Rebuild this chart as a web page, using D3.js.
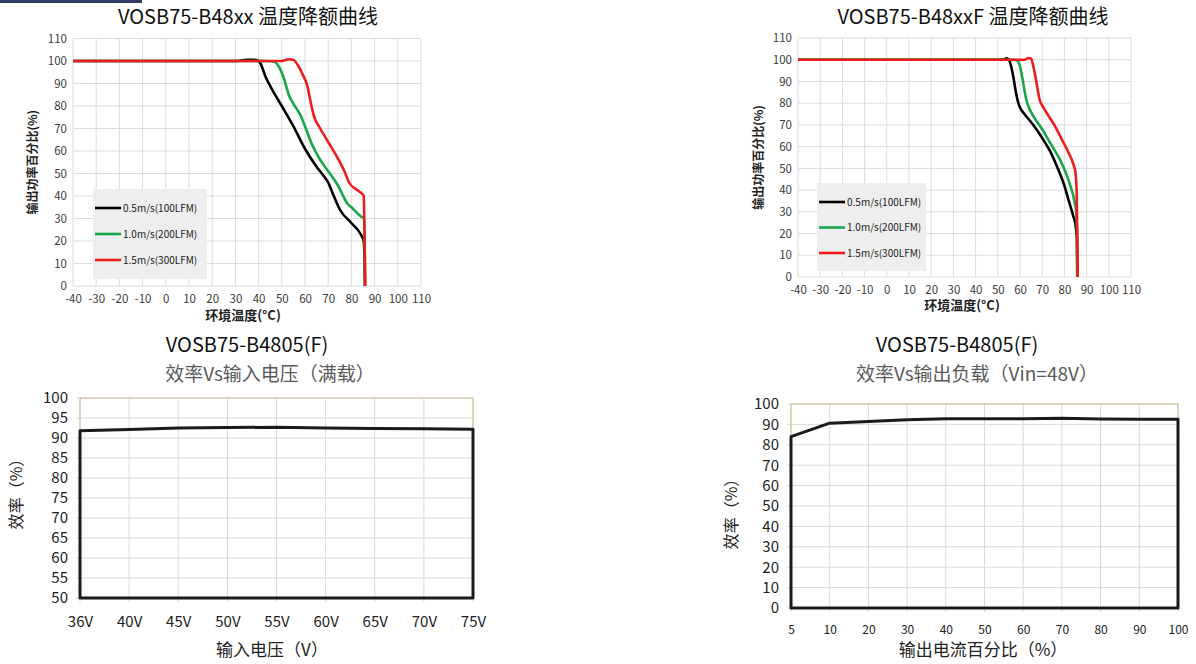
<!DOCTYPE html>
<html>
<head>
<meta charset="utf-8">
<script src="https://cdn.jsdelivr.net/npm/d3@7"></script>
<style>
  body { margin: 0; background: #fff; }
  svg { display: block; }
  text { font-family: "Noto Sans CJK SC", "DejaVu Sans", sans-serif; }
</style>
</head>
<body>
<script>
// ---- data: temperature derating curves (temp, output %) ----
var speeds = ["0.5m/s(100LFM)", "1.0m/s(200LFM)", "1.5m/s(300LFM)"];
var speedColors = ["#000000", "#1aa64b", "#ee1c1c"];

var b48xxBlack = [[-40,100],[30,100],[35,100.5],[38,100.5],[40,100],[41,98.5],[43,93],[46,87],[50,80],[55,71],[60,61],[65,53],[68,49],[70,46],[72,41],[75,34],[80,28],[84,23],[85.3,20],[85.7,10],[85.8,0]];
var b48xxGreen = [[-40,100],[44,100],[47,99.5],[49,97],[51,92],[53,85],[55,81],[58,76],[60,71],[63,63],[66,57],[70,51],[74,45],[76,41],[78,37],[80,35],[84,31],[85.4,30],[85.7,20],[85.9,0]];
var b48xxRed = [[-40,100],[50,100],[53,100.8],[55,100.5],[57,98],[59,94],[61,89],[62,84],[63,79],[64,75],[66,71],[70,64],[74,57],[77,51],[79,46],[82,43],[84,41.5],[85.3,40],[85.7,20],[86,0]];

var b48xxfBlack = [[-40,100],[52,100],[54,100.6],[55,100],[56,97],[57,92],[58,86],[59,81],[60,78],[62,75],[66,70],[70,64],[74,57],[77,50],[80,42],[82,35],[84,28],[85,24],[85.6,18],[85.8,0]];
var b48xxfGreen = [[-40,100],[57,100],[59,99.5],[60,97],[61,92],[62,86],[63,81],[64,78],[66,74],[70,68],[74,61],[78,54],[81,47],[83,41],[84.5,35],[85.3,30],[85.7,20],[85.9,0]];
var b48xxfRed = [[-40,100],[62,100],[64,100.8],[65,100.5],[66,97],[67,92],[68,86],[69,81],[70,79],[73,74],[76,69],[79,63],[82,57],[84,52],[85,48],[85.5,40],[85.8,20],[86,0]];

var tempTicks = d3.range(-40, 111, 10);
var pctTicks = d3.range(0, 111, 10);

// ---- data: efficiency ----
var vinLabels = ["36V","40V","45V","50V","55V","60V","65V","70V","75V"];
var effVsVin = [91.8, 92.1, 92.5, 92.6, 92.7, 92.5, 92.4, 92.3, 92.2];
var effVinTicks = d3.range(50, 101, 5);

var loadLabels = ["5","10","20","30","40","50","60","70","80","90","100"];
var effVsLoad = [84, 90.6, 91.4, 92.3, 92.8, 92.8, 92.8, 93.0, 92.6, 92.5, 92.5];
var effLoadTicks = d3.range(0, 101, 10);

var svg = d3.select("body").append("svg")
  .attr("width", 1196)
  .attr("height", 664);

// small navy bar in the corner
svg.append("rect").attr("x", 0).attr("y", 0).attr("width", 142).attr("height", 3).attr("fill", "#2f3d63");

function derating(opt) {
  var x = d3.scaleLinear().domain([-40, 110]).range([opt.x0, opt.x1]);
  var y = d3.scaleLinear().domain([0, 110]).range([opt.y0, opt.y1]);
  var g = svg.append("g");

  // grid
  g.append("g").selectAll("line").data(tempTicks).enter().append("line")
    .attr("x1", function (d) { return x(d); }).attr("x2", function (d) { return x(d); })
    .attr("y1", y(0)).attr("y2", y(110))
    .attr("stroke", "#dcdcdc").attr("stroke-width", 1);
  g.append("g").selectAll("line").data(pctTicks).enter().append("line")
    .attr("y1", function (d) { return y(d); }).attr("y2", function (d) { return y(d); })
    .attr("x1", x(-40)).attr("x2", x(110))
    .attr("stroke", "#dcdcdc").attr("stroke-width", 1);

  // axes
  var xa = g.append("g").attr("transform", "translate(0," + y(0) + ")")
    .call(d3.axisBottom(x).tickValues(tempTicks).tickFormat(function (d) { return String(d); }).tickSize(0).tickPadding(9));
  var ya = g.append("g").attr("transform", "translate(" + x(-40) + ",0)")
    .call(d3.axisLeft(y).tickValues(pctTicks).tickSize(0).tickPadding(6));
  [xa, ya].forEach(function (a) {
    a.select(".domain").remove();
    a.selectAll("text").attr("font-family", "Lato, sans-serif").attr("font-size", 11.5).attr("fill", "#3a3a3a");
  });

  // legend box
  var lg = g.append("g");
  lg.append("rect").attr("x", opt.lx).attr("y", opt.ly).attr("width", opt.lw).attr("height", opt.lh).attr("fill", "#eeeeee");

  var line = d3.line()
    .x(function (d) { return x(d[0]); })
    .y(function (d) { return y(d[1]); })
    .curve(d3.curveMonotoneX);
  opt.series.forEach(function (s, i) {
    g.append("path").datum(s)
      .attr("fill", "none").attr("stroke", speedColors[i]).attr("stroke-width", 2.6)
      .attr("stroke-linejoin", "round").attr("d", line);
  });

  speeds.forEach(function (name, i) {
    var yy = opt.ly + opt.lfirst + i * opt.lstep;
    lg.append("line").attr("x1", opt.lx + 2).attr("x2", opt.lx + 28)
      .attr("y1", yy).attr("y2", yy).attr("stroke", speedColors[i]).attr("stroke-width", 2.6);
    lg.append("text").attr("x", opt.lx + 30).attr("y", yy + 3.5)
      .attr("font-family", "Lato, sans-serif").attr("font-size", 10).attr("fill", "#222").text(name);
  });

  svg.append("text").attr("x", opt.tx).attr("y", 24).attr("text-anchor", "middle")
    .attr("font-size", 20).attr("font-weight", 400).attr("fill", "#111").text(opt.title);
  svg.append("text").attr("transform", "translate(" + opt.ylx + "," + (y(55)) + ") rotate(-90)")
    .attr("text-anchor", "middle").attr("dominant-baseline", "middle")
    .attr("font-size", 12).attr("font-weight", 700).attr("fill", "#222").text("输出功率百分比(%)");
  svg.append("text").attr("x", opt.xlx).attr("y", opt.xly).attr("text-anchor", "middle")
    .attr("font-size", 13).attr("font-weight", 700).attr("fill", "#222").text("环境温度(°C)");
}

derating({
  x0: 73, x1: 421, y0: 286, y1: 38.5,
  series: [b48xxBlack, b48xxGreen, b48xxRed],
  lx: 93, ly: 189, lw: 114, lh: 90, lfirst: 19, lstep: 26,
  title: "VOSB75-B48xx 温度降额曲线", tx: 248,
  ylx: 34, xlx: 243, xly: 320
});
derating({
  x0: 798, x1: 1131, y0: 277, y1: 38,
  series: [b48xxfBlack, b48xxfGreen, b48xxfRed],
  lx: 817, ly: 183, lw: 109, lh: 88, lfirst: 19, lstep: 25.5,
  title: "VOSB75-B48xxF 温度降额曲线", tx: 973,
  ylx: 760, xlx: 962, xly: 310
});

function efficiency(opt) {
  var x = d3.scalePoint().domain(opt.cats).range([opt.x0, opt.x1]);
  var y = d3.scaleLinear().domain([opt.ymin, 100]).range([opt.y0, opt.y1]);
  var g = svg.append("g");

  g.append("g").selectAll("line").data(opt.cats).enter().append("line")
    .attr("x1", function (d) { return x(d); }).attr("x2", function (d) { return x(d); })
    .attr("y1", y(opt.ymin) + 4).attr("y2", y(100))
    .attr("stroke", "#d9d9d9").attr("stroke-width", 1);
  g.append("g").selectAll("line").data(opt.yticks).enter().append("line")
    .attr("y1", function (d) { return y(d); }).attr("y2", function (d) { return y(d); })
    .attr("x1", opt.x0 - 4).attr("x2", opt.x1)
    .attr("stroke", "#d9d9d9").attr("stroke-width", 1);
  g.append("rect").attr("x", opt.x0).attr("y", y(100)).attr("width", opt.x1 - opt.x0).attr("height", y(opt.ymin) - y(100))
    .attr("fill", "none").attr("stroke", "#cdbf8f").attr("stroke-width", 1);

  var xa = g.append("g").attr("transform", "translate(0," + y(opt.ymin) + ")")
    .call(d3.axisBottom(x).tickSize(0).tickPadding(opt.xpad));
  var ya = g.append("g").attr("transform", "translate(" + opt.x0 + ",0)")
    .call(d3.axisLeft(y).tickValues(opt.yticks).tickSize(0).tickPadding(12));
  xa.select(".domain").remove();
  ya.select(".domain").remove();
  xa.selectAll("text").attr("font-family", "DejaVu Sans, sans-serif").attr("font-size", opt.xfs).attr("fill", "#222");
  ya.selectAll("text").attr("font-family", "DejaVu Sans, sans-serif").attr("font-size", 15).attr("fill", "#222");

  // outline: data line, then down the right edge, along the bottom, up the left edge
  var pts = opt.cats.map(function (c, i) { return [x(c), y(opt.vals[i])]; });
  pts.push([x(opt.cats[opt.cats.length - 1]), y(opt.ymin)]);
  pts.push([x(opt.cats[0]), y(opt.ymin)]);
  g.append("path").attr("d", d3.line()(pts) + "Z")
    .attr("fill", "none").attr("stroke", "#1a1a1a").attr("stroke-width", 3).attr("stroke-linejoin", "round");

  svg.append("text").attr("x", opt.tx).attr("y", opt.ty).attr("text-anchor", "middle")
    .attr("font-size", 20).attr("font-weight", 400).attr("fill", "#111").text("VOSB75-B4805(F)");
  svg.append("text").attr("x", opt.sx).attr("y", opt.ty + 29).attr("text-anchor", "middle")
    .attr("font-size", 19).attr("fill", "#5a5a5a").text(opt.sub);
  svg.append("text").attr("x", opt.xlx).attr("y", 656).attr("text-anchor", "middle")
    .attr("font-size", 17).attr("fill", "#222").text(opt.xlabel);
  svg.append("text").attr("transform", "translate(" + opt.ylx + "," + opt.yly + ") rotate(-90)")
    .attr("text-anchor", "middle").attr("dominant-baseline", "middle")
    .attr("font-size", 16).attr("fill", "#222").text("效率（%）");
}

efficiency({
  cats: vinLabels, vals: effVsVin, ymin: 50, yticks: effVinTicks,
  x0: 80, x1: 473, y0: 598, y1: 398, xpad: 18, xfs: 15,
  tx: 247, ty: 352, sx: 270, sub: "效率Vs输入电压（满载）",
  xlx: 272, xlabel: "输入电压（V）", ylx: 18, yly: 490
});
efficiency({
  cats: loadLabels, vals: effVsLoad, ymin: 0, yticks: effLoadTicks,
  x0: 791, x1: 1178, y0: 608, y1: 404, xpad: 17, xfs: 12,
  tx: 957, ty: 352, sx: 977, sub: "效率Vs输出负载（Vin=48V）",
  xlx: 983, xlabel: "输出电流百分比（%）", ylx: 733, yly: 510
});
</script>
</body>
</html>
